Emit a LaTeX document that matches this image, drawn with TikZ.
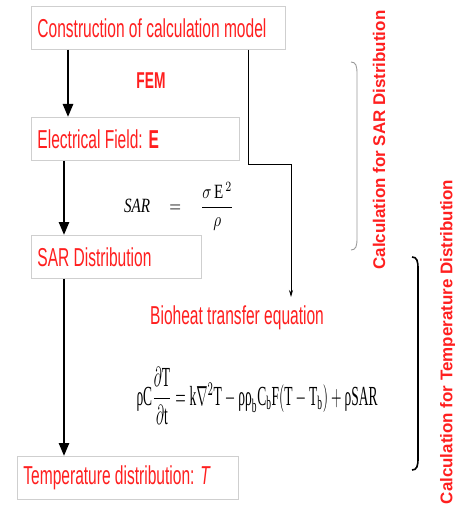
\documentclass[tikz,border=0pt]{standalone}
\usepackage{fontspec,graphicx,amsmath}
\setmainfont{Liberation Serif}
\newfontfamily\narrowsans[FakeStretch=0.6]{Liberation Sans}
\newfontfamily\labelsans{Liberation Sans}
\usetikzlibrary{arrows.meta}
\definecolor{signal}{HTML}{FF1F1F}
\definecolor{frameline}{HTML}{CFCFCF}
\definecolor{bracegrey}{HTML}{9A9A9A}
\newcommand{\urho}{\text{ρ}}

\begin{document}
\begin{tikzpicture}[x=1bp,y=-1bp,
  stage/.style={draw=frameline,line width=0.9bp,anchor=north west,align=flush left,inner xsep=6bp,inner ysep=0pt,minimum height=43bp,text=signal,font=\narrowsans\fontsize{26}{28}\selectfont},
  flow/.style={-{Triangle[length=13bp,width=10bp]},line width=2.6bp},
  link/.style={-{Stealth[length=7bp,width=4bp]},line width=0.7bp},
  sidelabel/.style={rotate=90,inner sep=0pt,text=signal,font=\labelsans\bfseries\fontsize{17}{20}\selectfont}]
\fill[white] (0,0) rectangle (455,525);
\useasboundingbox (0,0) rectangle (455,525);
% stages of the calculation
\node[stage,text width=242bp] (model) at (31,6) {Construction of calculation model};
\node[stage,text width=196bp] (field) at (31,117) {Electrical Field: \textbf{E}};
\node[stage,text width=158bp] (sar) at (31,235) {SAR Distribution};
\node[stage,text width=209bp] (temp) at (17,456) {Temperature distribution: \textit{T}};
\node[inner sep=0pt,text=signal,font=\narrowsans\bfseries\fontsize{23}{25}\selectfont] (fem) at (151,81) {FEM};
\node[inner sep=0pt] (sareq) at (179,206) {\resizebox*{110bp}{48bp}{$\mathit{SAR}\quad=\quad\dfrac{\sigma\,\mathrm{E}^{\,2}}{\rho}$}};
\node[inner sep=0pt,anchor=west,text=signal,font=\narrowsans\fontsize{26}{28}\selectfont] (bioheat) at (150,318) {Bioheat transfer equation};
\node[inner sep=0pt] (bioeq) at (257,396) {\resizebox*{241bp}{57bp}{$\urho\mathrm{C}\dfrac{\partial\mathrm{T}}{\partial\mathrm{t}}=\mathrm{k}\nabla^{2}\mathrm{T}-\urho\urho_{\mathrm{b}}\mathrm{C}_{\mathrm{b}}\mathrm{F}(\mathrm{T}-\mathrm{T}_{\mathrm{b}})+\urho\mathrm{SAR}$}};
% columns of the arrows
\coordinate (colA) at (68,0);
\coordinate (colB) at (64,0);
\coordinate (tap) at (248,0);
\coordinate (elbow) at (291,164);
\coordinate (bioin) at (291,297);
\draw[flow] (model.south -| colA) -- (field.north -| colA);
\draw[flow] (field.south -| colB) -- (sar.north -| colB);
\draw[flow] (sar.south -| colB) -- (temp.north -| colB);
\draw[link] (model.south -| tap) |- (elbow) -- (bioin);
% brackets and their labels
\draw[bracegrey,line width=0.9bp] (351,62) .. controls (356,62) and (357,66) .. (357,74) -- (357,238) .. controls (357,246) and (356,250) .. (351,250);
\draw[line width=1.6bp] (412,257) .. controls (417,257) and (418,261) .. (418,269) -- (418,458) .. controls (418,466) and (417,470) .. (412,470);
\node[sidelabel] (sarlbl) at (379,140) {Calculation for SAR Distribution};
\node[sidelabel] (templbl) at (448,342) {Calculation for Temperature Distribution};
\end{tikzpicture}
\end{document}
